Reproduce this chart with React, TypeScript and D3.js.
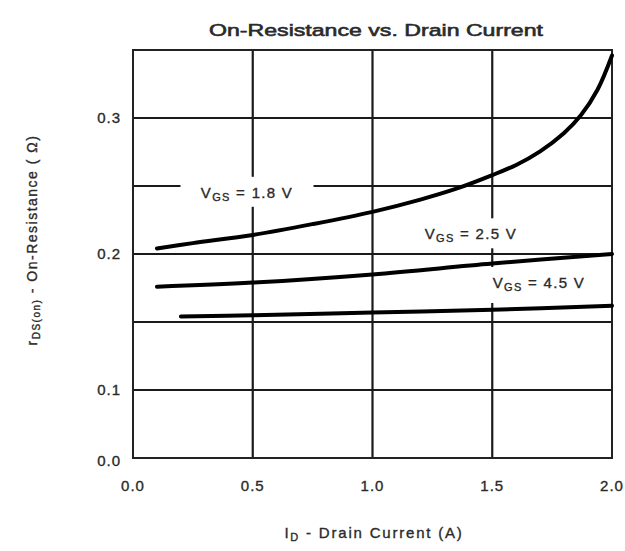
import React from "react";
import * as d3 from "d3";

const TITLE = "On-Resistance vs. Drain Current";
const xTicks = [0, 0.5, 1.0, 1.5, 2.0];
const xTickLabels = ["0.0", "0.5", "1.0", "1.5", "2.0"];
const yGrid = [0.1, 0.15, 0.2, 0.25, 0.3];
const yTicks = [0.3, 0.2, 0.1];
const yTickLabels = ["0.3", "0.2", "0.1"];
const yBottomLabel = "0.0";

const vgs18: [number, number][] = [
  [0.1, 0.204], [0.25, 0.208], [0.5, 0.214], [0.75, 0.222], [1.0, 0.231],
  [1.2, 0.240], [1.35, 0.248], [1.5, 0.258], [1.6, 0.2655], [1.7, 0.2755],
  [1.8, 0.289], [1.87, 0.302], [1.94, 0.321], [2.0, 0.346],
];
const vgs25: [number, number][] = [
  [0.1, 0.176], [0.5, 0.179], [1.0, 0.185], [1.5, 0.193], [2.0, 0.200],
];
const vgs45: [number, number][] = [
  [0.2, 0.154], [0.5, 0.155], [1.0, 0.157], [1.5, 0.159], [2.0, 0.162],
];
const seriesNames = ["1.8 V", "2.5 V", "4.5 V"];
// label anchors in data units (x center, y center)
const labelAnchors: [number, number][] = [[0.476, 0.245], [1.411, 0.2145], [1.695, 0.1787]];

const W = 625, H = 551;
const L = 133, R = 612, T = 50, B = 458;

export default function App() {
  const x = d3.scaleLinear().domain([0, 2]).range([L, R]);
  const y = d3.scaleLinear().domain([0.05, 0.35]).range([B, T]);
  const line = d3.line<[number, number]>()
    .x(d => x(d[0])).y(d => y(d[1])).curve(d3.curveCatmullRom.alpha(0.5));
  const series = [vgs18, vgs25, vgs45];
  const font = "'Liberation Sans', Arial, sans-serif";
  const boxW = [133, 104, 108];
  const boxH = 30;
  const txt = { fill: "#2a2a2a", stroke: "#2a2a2a", strokeWidth: 0.35 };
  return (
    <svg width={W} height={H} style={{ display: "block", position: "absolute", left: 0, top: 0 }} fontFamily={font}>
      <rect x={0} y={0} width={W} height={H} fill="#fff" />
      <text x={376} y={36} textAnchor="middle" fontSize={17} {...txt} strokeWidth={0.6}
        textLength={334} lengthAdjust="spacingAndGlyphs">{TITLE}</text>
      {/* grid */}
      {yGrid.map(v => (
        <line key={"gy" + v} x1={L} x2={R} y1={y(v)} y2={y(v)} stroke="#1a1a1a" strokeWidth={2.2} />
      ))}
      {xTicks.slice(1, -1).map(v => (
        <line key={"gx" + v} x1={x(v)} x2={x(v)} y1={T} y2={B} stroke="#1a1a1a" strokeWidth={2.2} />
      ))}
      <rect x={L} y={T} width={R - L} height={B - T} fill="none" stroke="#222" strokeWidth={2} />
      {/* label boxes */}
      {labelAnchors.map((a, i) => (
        <rect key={"lb" + i} x={x(a[0]) - boxW[i] / 2} y={y(a[1]) - boxH / 2 - 1}
          width={boxW[i]} height={boxH + (i === 2 ? 6 : 0)} fill="#fff" />
      ))}
      {/* curves */}
      {series.map((s, i) => (
        <path key={"s" + i} d={line(s) || ""} fill="none" stroke="#000" strokeWidth={4} strokeLinecap="round" />
      ))}
      {/* labels */}
      {labelAnchors.map((a, i) => (
        <text key={"lt" + i} x={x(a[0])} y={y(a[1]) + 5} textAnchor="middle" fontSize={15} letterSpacing={1.3} {...txt}>
          V<tspan fontSize={11} dy={3}>GS</tspan><tspan dy={-3}>{" = " + seriesNames[i]}</tspan>
        </text>
      ))}
      {/* y ticks */}
      {yTicks.map((v, i) => (
        <text key={"yt" + v} x={121} y={y(v) + 5} textAnchor="end" fontSize={15} letterSpacing={1} {...txt}>{yTickLabels[i]}</text>
      ))}
      <text x={121} y={B + 8} textAnchor="end" fontSize={15} letterSpacing={1} {...txt}>{yBottomLabel}</text>
      {/* x ticks */}
      {xTicks.map((v, i) => (
        <text key={"xt" + v} x={x(v)} y={491} textAnchor="middle" fontSize={15} letterSpacing={1} {...txt}>{xTickLabels[i]}</text>
      ))}
      <text x={374} y={538} textAnchor="middle" fontSize={15} letterSpacing={1.8} {...txt}>
        I<tspan fontSize={11} dy={3}>D</tspan><tspan dy={-3}>{"  -  Drain Current (A)"}</tspan>
      </text>
      <text transform={`translate(37,${240}) rotate(-90)`} textAnchor="middle" fontSize={14} letterSpacing={1.5} {...txt}>
        r<tspan fontSize={10} dy={3}>DS(on)</tspan><tspan dy={-3}>{"  -  On-Resistance ( Ω)"}</tspan>
      </text>
    </svg>
  );
}
